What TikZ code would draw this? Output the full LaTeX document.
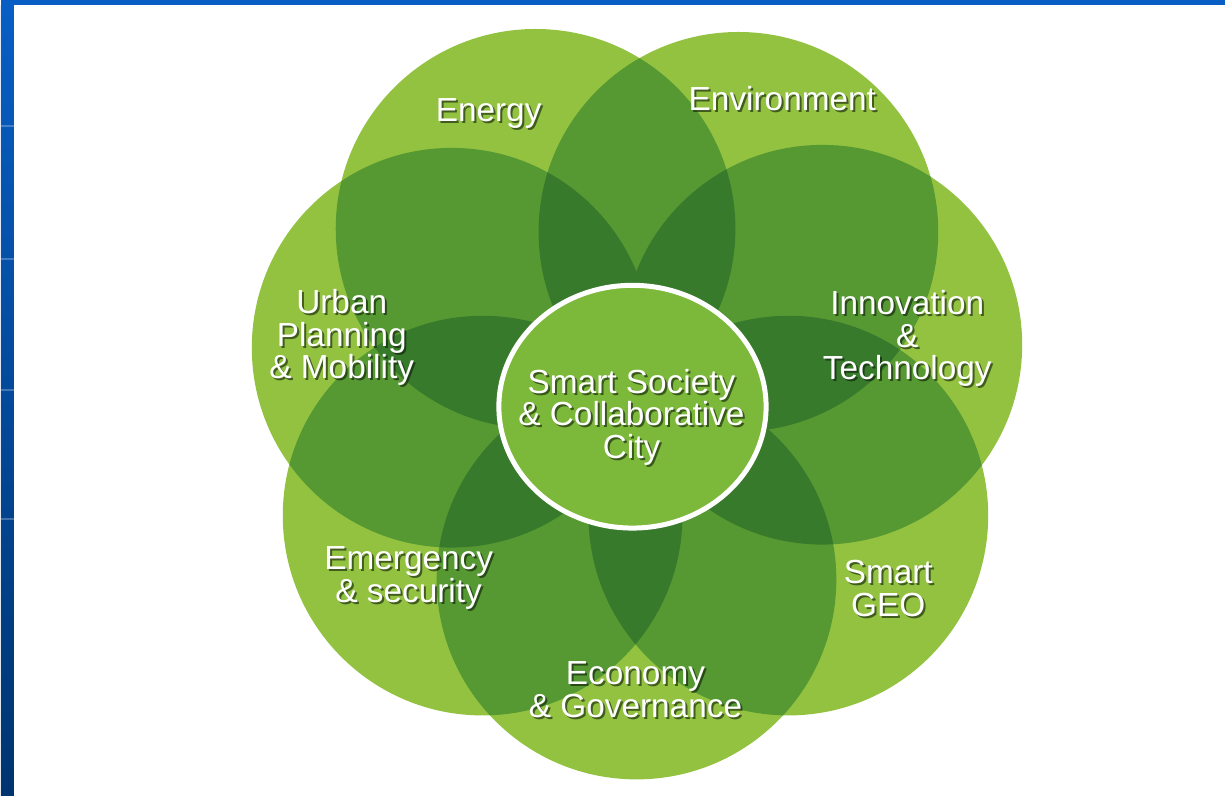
\documentclass[tikz,border=0pt]{standalone}
\usepackage{fontspec}
\setmainfont{Liberation Sans}
\usetikzlibrary{shapes.geometric}
\definecolor{leafa}{RGB}{146,194,64}
\definecolor{leafb}{RGB}{86,152,50}
\definecolor{leafc}{RGB}{56,122,44}
\definecolor{hubgreen}{RGB}{124,184,58}
\definecolor{slideblue}{RGB}{8,94,196}
\definecolor{slidedeep}{RGB}{0,52,112}
\tikzset{
  petal/.style={fill=leafa},
  twofold/.style={fill=leafb},
  threefold/.style={fill=leafc},
  petaltext/.style={text=white, align=center, inner sep=0pt, anchor=base,
    font=\fontsize{19}{18.6}\selectfont},
  petalshade/.style={petaltext, text=black!80!leafc, opacity=0.6},
}

\begin{document}
\begin{tikzpicture}[x=0.02cm,y=-0.02cm]
    % slide background
    \fill[slideblue] (0,0) rectangle (1225,796);
    \shade[top color=slideblue, bottom color=slidedeep] (0,5) rectangle (13,796);
    \foreach \y in {126,259,390,519}
        \draw[white, opacity=0.25, line width=0.04cm] (0,\y) -- (13,\y);
    \fill[white] (13,5) rectangle (1225,796);
    \useasboundingbox (0,0) rectangle (1225,796);

    % petal centres
    \coordinate (c1) at (535,229); % energy
    \coordinate (c2) at (738,232); % environment
    \coordinate (c3) at (822,345); % innovation
    \coordinate (c4) at (788,516); % smart geo
    \coordinate (c5) at (636,580); % economy
    \coordinate (c6) at (482,516); % emergency
    \coordinate (c7) at (451,348); % urban planning

    \foreach \i in {1,...,7} \fill[petal] (c\i) circle (200);
    % two petals overlapping
    \foreach \i in {1,...,6}{
        \pgfmathtruncatemacro{\ni}{\i+1}
        \foreach \j in {\ni,...,7}{
            \begin{scope}
                \clip (c\i) circle (200);
                \fill[twofold] (c\j) circle (200);
            \end{scope}
        }
    }
    % three petals overlapping
    \foreach \i in {1,...,5}{
        \pgfmathtruncatemacro{\ni}{\i+1}
        \foreach \j in {\ni,...,6}{
            \pgfmathtruncatemacro{\nj}{\j+1}
            \foreach \k in {\nj,...,7}{
                \begin{scope}
                    \clip (c\i) circle (200);
                    \clip (c\j) circle (200);
                    \fill[threefold] (c\k) circle (200);
                \end{scope}
            }
        }
    }

    \node[ellipse, minimum width=5.35cm, minimum height=4.86cm, inner sep=0pt,
        fill=hubgreen, draw=white, line width=0.1cm] (hub) at (632,407) {};

    % base = last line of each label
    \foreach \name/\x/\y/\txt in {
        energy/488/122/Energy,
        environment/782/111/Environment,
        urban/341/379/{Urban\\Planning\\\& Mobility},
        innovation/907/380/{Innovation\\\&\\Technology},
        geo/888/617/{Smart\\GEO},
        economy/635/718/{Economy\\\& Governance},
        emergency/408/603/{Emergency\\\& security},
        society/631/459/{Smart Society\\\& Collaborative\\City}}{
        \node[petalshade] (\name-shade) at (\x+2,\y+2) {\txt};
        \node[petaltext] (\name) at (\x,\y) {\txt};
    }
\end{tikzpicture}
\end{document}
